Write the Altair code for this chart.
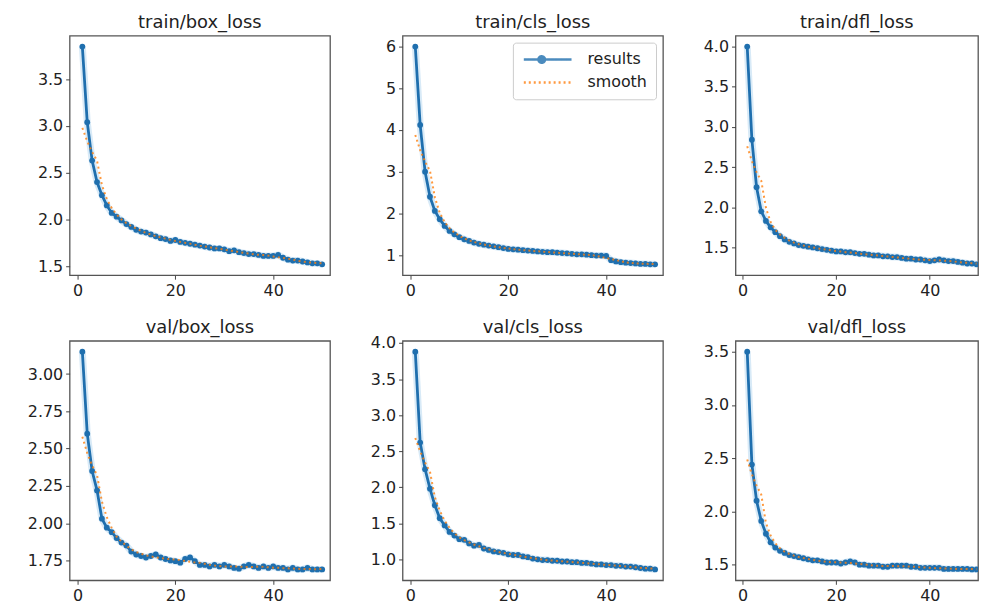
import altair as alt
import pandas as pd

epochs = list(range(1, 51))

titles = ["train/box_loss", "train/cls_loss", "train/dfl_loss",
          "val/box_loss", "val/cls_loss", "val/dfl_loss"]

train_box = [3.85, 3.04, 2.63, 2.40, 2.26, 2.15, 2.07, 2.03, 1.99, 1.95,
             1.92, 1.89, 1.87, 1.86, 1.84, 1.82, 1.80, 1.79, 1.77, 1.78,
             1.76, 1.75, 1.74, 1.73, 1.72, 1.71, 1.70, 1.69, 1.69, 1.68,
             1.66, 1.67, 1.65, 1.64, 1.63, 1.63, 1.62, 1.61, 1.61, 1.61,
             1.62, 1.59, 1.57, 1.56, 1.56, 1.55, 1.54, 1.53, 1.53, 1.52]
train_cls = [6.00, 4.12, 3.00, 2.40, 2.06, 1.86, 1.70, 1.58, 1.50, 1.43,
             1.38, 1.34, 1.30, 1.27, 1.25, 1.23, 1.21, 1.19, 1.17, 1.15,
             1.14, 1.13, 1.12, 1.11, 1.10, 1.09, 1.08, 1.07, 1.07, 1.06,
             1.05, 1.04, 1.03, 1.02, 1.02, 1.01, 1.00, 0.99, 0.99, 0.98,
             0.88, 0.85, 0.83, 0.82, 0.81, 0.80, 0.79, 0.79, 0.78, 0.78]
train_dfl = [4.00, 2.84, 2.25, 1.95, 1.83, 1.75, 1.69, 1.64, 1.60, 1.57,
             1.55, 1.53, 1.52, 1.51, 1.50, 1.49, 1.48, 1.47, 1.46, 1.45,
             1.45, 1.44, 1.44, 1.43, 1.42, 1.42, 1.41, 1.40, 1.40, 1.39,
             1.39, 1.38, 1.38, 1.37, 1.36, 1.36, 1.35, 1.35, 1.34, 1.33,
             1.34, 1.35, 1.34, 1.33, 1.33, 1.32, 1.31, 1.30, 1.30, 1.29]
val_box = [3.15, 2.60, 2.35, 2.22, 2.03, 1.97, 1.94, 1.90, 1.87, 1.85,
           1.81, 1.79, 1.78, 1.77, 1.78, 1.79, 1.77, 1.76, 1.75, 1.745,
           1.735, 1.76, 1.77, 1.745, 1.72, 1.72, 1.71, 1.72, 1.71, 1.72,
           1.71, 1.70, 1.695, 1.71, 1.72, 1.71, 1.70, 1.71, 1.70, 1.71,
           1.70, 1.70, 1.69, 1.70, 1.69, 1.69, 1.70, 1.69, 1.69, 1.69]
val_cls = [3.88, 2.62, 2.25, 1.98, 1.75, 1.57, 1.47, 1.38, 1.33, 1.28,
           1.27, 1.22, 1.19, 1.20, 1.15, 1.13, 1.11, 1.10, 1.09, 1.07,
           1.06, 1.06, 1.04, 1.03, 1.01, 1.00, 0.99, 0.99, 0.98, 0.98,
           0.97, 0.97, 0.96, 0.96, 0.95, 0.95, 0.94, 0.93, 0.93, 0.92,
           0.92, 0.91, 0.91, 0.90, 0.90, 0.89, 0.88, 0.87, 0.87, 0.86]
val_dfl = [3.50, 2.44, 2.10, 1.91, 1.79, 1.71, 1.66, 1.63, 1.61, 1.59,
           1.58, 1.57, 1.56, 1.55, 1.54, 1.54, 1.53, 1.52, 1.52, 1.52,
           1.51, 1.52, 1.53, 1.52, 1.50, 1.50, 1.49, 1.49, 1.49, 1.48,
           1.48, 1.49, 1.49, 1.49, 1.49, 1.48, 1.48, 1.47, 1.47, 1.47,
           1.47, 1.47, 1.46, 1.46, 1.46, 1.46, 1.46, 1.46, 1.455, 1.455]

series = [train_box, train_cls, train_dfl, val_box, val_cls, val_dfl]

x_ticks = [0, 20, 40]
y_ticks = [
    [1.5, 2.0, 2.5, 3.0, 3.5],
    [1, 2, 3, 4, 5, 6],
    [1.5, 2.0, 2.5, 3.0, 3.5, 4.0],
    [1.75, 2.00, 2.25, 2.50, 2.75, 3.00],
    [1.0, 1.5, 2.0, 2.5, 3.0, 3.5, 4.0],
    [1.5, 2.0, 2.5, 3.0, 3.5],
]
y_formats = [".1f", "d", ".1f", ".2f", ".1f", ".1f"]
legend_labels = ["results", "smooth"]

BLUE = "#1f6fae"
ORANGE = "#ff7f0e"
FRAME = "#555555"
FONT = "DejaVu Sans"

DOTLINE = "M-1,0L7,0M2.55,0A0.55,0.55,0,1,1,1.45,0A0.55,0.55,0,1,1,2.55,0Z"
PLAINLINE = "M-1,0L7,0"

# title offsets (val/cls_loss has its top tick label poking above the frame)
title_offsets = [4, 4, 4, 4, -2, 4]


def panel(idx):
    values = series[idx]
    cut = idx in (2, 5)  # right-hand column is cut off by the picture edge
    width = 244 if cut else 262
    xdom = [-1.5, 50.3] if cut else [-1.6, 51.6]
    df = pd.DataFrame({"epoch": epochs, "value": values})
    lo, hi = min(values), max(values)
    span = hi - lo
    ysc = alt.Scale(domain=[lo - 0.05 * span, hi + 0.05 * span], nice=False, zero=False)
    xsc = alt.Scale(domain=xdom, nice=False, zero=False)
    xax = alt.Axis(values=x_ticks, title=None, grid=False, domain=False,
                   labelFont=FONT, labelFontSize=16, labelColor="#222",
                   tickColor="#444", tickSize=4, labelPadding=3,
                   minExtent=22, maxExtent=22)
    yax = alt.Axis(values=y_ticks[idx], format=y_formats[idx], title=None,
                   grid=False, domain=False,
                   labelFont=FONT, labelFontSize=16,
                   labelColor="#222", tickColor="#444", tickSize=4,
                   labelPadding=3, minExtent=50, maxExtent=50)
    base = alt.Chart(df).encode(
        x=alt.X("epoch:Q", scale=xsc, axis=xax),
        y=alt.Y("value:Q", scale=ysc, axis=yax),
    )
    smooth_base = base.transform_window(
        smooth="mean(value)", frame=[-3, 3], sort=[alt.SortField("epoch")]
    ).encode(y=alt.Y("smooth:Q", scale=ysc, axis=yax))

    halo = base.mark_line(color="#a9d0ee", strokeWidth=7, opacity=0.45, clip=True)
    line = base.mark_line(color=BLUE, strokeWidth=2.8, clip=True)
    pts = base.mark_point(filled=True, size=34, color=BLUE, opacity=1, clip=True)
    smooth = smooth_base.mark_line(color=ORANGE, strokeWidth=2,
                                   strokeDash=[2, 3.3], opacity=0.8, clip=True)
    layers = [halo, line, pts, smooth]

    if idx == 1:
        leg = alt.Legend(
            title=None, orient="top-right", offset=7, padding=9,
            strokeColor="#cccccc", fillColor="#ffffff", cornerRadius=3,
            labelFont=FONT, labelFontSize=16, labelColor="#222",
            symbolSize=144, symbolStrokeWidth=2.5,
            labelOffset=50, rowPadding=6,
        )
        cscale = alt.Scale(domain=legend_labels, range=[BLUE, ORANGE])
        dscale = alt.Scale(domain=legend_labels, range=[[1, 0], [2, 3]])
        sscale = alt.Scale(domain=legend_labels, range=[DOTLINE, PLAINLINE])
        layers[1] = line.transform_calculate(s="'results'").encode(
            color=alt.Color("s:N", scale=cscale, legend=leg),
            strokeDash=alt.StrokeDash("s:N", scale=dscale, legend=leg))
        layers[3] = smooth.transform_calculate(s="'smooth'").encode(
            color=alt.Color("s:N", scale=cscale, legend=leg),
            strokeDash=alt.StrokeDash("s:N", scale=dscale, legend=leg))
        # legend-only layer (draws nothing) giving the symbol shapes
        layers.append(
            base.transform_filter("datum.epoch < 0")
            .transform_calculate(s="'results'")
            .mark_point(filled=True, color=BLUE)
            .encode(color=alt.Color("s:N", scale=cscale, legend=leg),
                    shape=alt.Shape("s:N", scale=sscale, legend=leg))
        )

    title = alt.Title(titles[idx], font=FONT, fontSize=18, fontWeight="normal",
                      color="#222", anchor="middle", frame="group",
                      offset=title_offsets[idx])

    return alt.layer(*layers).properties(
        width=width, height=241, title=title,
        view=alt.ViewBackground(stroke=FRAME, strokeWidth=1.3))


panels = [panel(i) for i in range(6)]

chart = alt.concat(*panels, columns=3, spacing={"row": 19, "column": 21}).properties(
    padding={"left": 11, "top": 3, "right": 0, "bottom": 0},
    background="white",
).resolve_scale(
    color="independent", strokeDash="independent", shape="independent"
).configure_view(stroke=FRAME, strokeWidth=1.3)

chart.save("out.html", embed_options={"renderer": "svg", "actions": False})
